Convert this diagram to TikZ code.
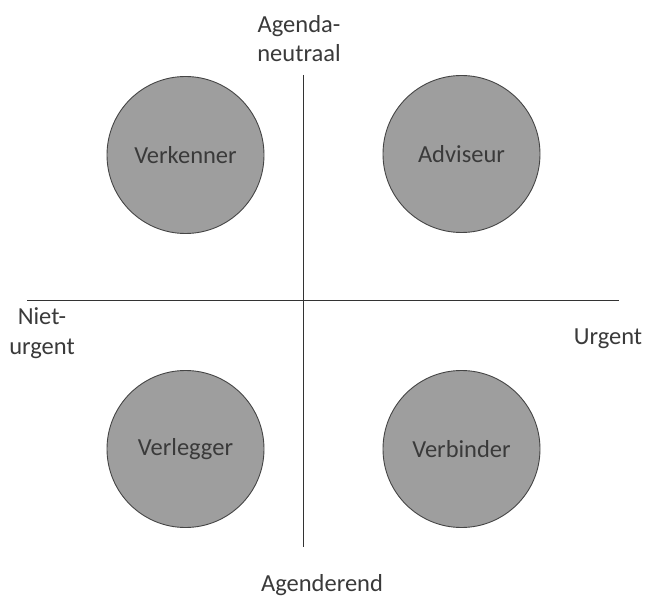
\documentclass[tikz,border=0pt]{standalone}
\usepackage{fontspec}
\setmainfont{Carlito}
\begin{document}
\begin{tikzpicture}[x=1pt,y=1pt,
  axis/.style={draw=axisgray,line width=0.9pt},
  role/.style={circle,draw=edgegray,fill=rolefill,line width=0.9pt,minimum size=157pt,inner sep=0pt,
    text=labelgray,font=\fontsize{24.5}{29}\selectfont},
  pole/.style={inner sep=0pt,text=labelgray,align=center,font=\fontsize{24.5}{29.5}\selectfont}]
\definecolor{axisgray}{HTML}{333333}
\definecolor{edgegray}{HTML}{454545}
\definecolor{rolefill}{HTML}{9E9E9E}
\definecolor{labelgray}{HTML}{3A3A3A}
\useasboundingbox[fill=white] (0,0) rectangle (653,598);
% axes
\coordinate (top) at (303,523);
\coordinate (bottom) at (303,51);
\coordinate (left) at (27,298);
\coordinate (right) at (619,298);
\draw[axis] (top) -- (bottom);
\draw[axis] (left) -- (right);
% quadrant roles
\node[role] (verkenner) at (185.5,443) {Verkenner};
\node[role] (adviseur) at (461.5,444) {Adviseur};
\node[role] (verlegger) at (185.5,149) {Verlegger};
\node[role] (verbinder) at (461.5,149) {Verbinder};
% axis labels (base anchor sits on the last line)
\node[pole,anchor=base] (neutraal) at (299,536) {Agenda-\\neutraal};
\node[pole,anchor=base] (niet) at (42,244) {Niet-\\urgent};
\node[pole,anchor=base] (urgent) at (608,254) {Urgent};
\node[pole,anchor=base] (agenderend) at (322,6.5) {Agenderend};
\end{tikzpicture}
\end{document}
